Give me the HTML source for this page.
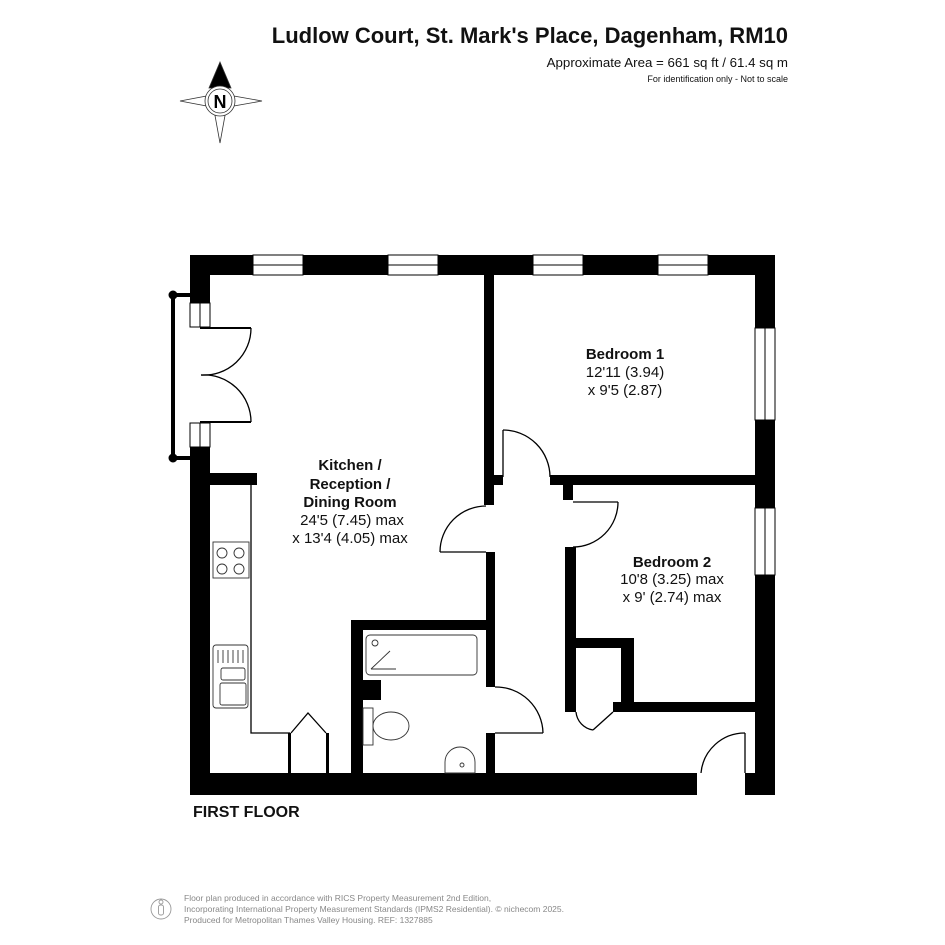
<!DOCTYPE html>
<html><head><meta charset="utf-8"><style>
html,body{margin:0;padding:0;background:#fff}
svg{display:block}
text{font-family:"Liberation Sans",Arial,sans-serif}
</style></head><body>
<svg width="945" height="945" viewBox="0 0 945 945" xmlns="http://www.w3.org/2000/svg">
<rect width="945" height="945" fill="#fff"/>
<text x="788" y="43" text-anchor="end" font-size="22" font-weight="bold" fill="#111">Ludlow Court, St. Mark's Place, Dagenham, RM10</text>
<text x="788" y="67" text-anchor="end" font-size="13.3" fill="#111">Approximate Area = 661 sq ft / 61.4 sq m</text>
<text x="788" y="82" text-anchor="end" font-size="9" fill="#111">For identification only - Not to scale</text>
<g stroke="#333" stroke-width="0.8" fill="#fff">
<polygon points="180,101 212,95 212,107"/>
<polygon points="262,101 228,95 228,107"/>
<polygon points="220,143 214,110 226,110"/>
<polygon points="220,62 209,88 231,88" fill="#000"/>
<circle cx="220" cy="101" r="15"/>
<circle cx="220" cy="101" r="12"/>
</g>
<text x="220" y="108" text-anchor="middle" font-size="18" font-weight="bold">N</text>

<g fill="#000">
<rect x="190" y="255" width="585" height="20"/>
<rect x="190" y="255" width="20" height="48"/>
<rect x="190" y="447" width="20" height="348"/>
<rect x="755" y="255" width="20" height="540"/>
<rect x="190" y="773" width="507" height="22"/>
<rect x="745" y="773" width="30" height="22"/>
<rect x="210" y="473" width="47" height="12"/>
<rect x="484" y="275" width="10" height="230"/>
<rect x="494" y="475" width="9" height="10"/>
<rect x="550" y="475" width="205" height="10"/>
<rect x="563" y="485" width="10" height="15"/>
<rect x="565" y="547" width="11" height="165"/>
<rect x="565" y="638" width="69" height="10"/>
<rect x="621" y="638" width="13" height="74"/>
<rect x="613" y="702" width="142" height="10"/>
<rect x="351" y="620" width="144" height="10"/>
<rect x="351" y="620" width="12" height="153"/>
<rect x="486" y="552" width="9" height="135"/>
<rect x="486" y="733" width="9" height="40"/>
<rect x="363" y="680" width="18" height="20"/>
<rect x="288" y="733" width="3" height="40"/>
<rect x="326" y="733" width="3" height="40"/>
</g>
<g fill="#fff" stroke="#000" stroke-width="1">
<rect x="253" y="255" width="50" height="20"/><line x1="253" y1="265" x2="303" y2="265"/>
<rect x="388" y="255" width="50" height="20"/><line x1="388" y1="265" x2="438" y2="265"/>
<rect x="533" y="255" width="50" height="20"/><line x1="533" y1="265" x2="583" y2="265"/>
<rect x="658" y="255" width="50" height="20"/><line x1="658" y1="265" x2="708" y2="265"/>
<rect x="755" y="328" width="20" height="92"/><line x1="765" y1="328" x2="765" y2="420"/>
<rect x="755" y="508" width="20" height="67"/><line x1="765" y1="508" x2="765" y2="575"/>
<rect x="190" y="303" width="20" height="24"/><line x1="200" y1="303" x2="200" y2="327"/>
<rect x="190" y="423" width="20" height="24"/><line x1="200" y1="423" x2="200" y2="447"/>
</g>
<g stroke="#000" fill="#000">
<line x1="173" y1="295" x2="173" y2="458" stroke-width="4"/>
<line x1="173" y1="295" x2="190" y2="295" stroke-width="4"/>
<line x1="173" y1="458" x2="190" y2="458" stroke-width="4"/>
<circle cx="173" cy="295" r="4"/><circle cx="173" cy="458" r="4"/>
</g>
<g stroke="#000" stroke-width="1.3" fill="none">
<line x1="200" y1="328" x2="251" y2="328" stroke-width="2"/>
<line x1="200" y1="422" x2="251" y2="422" stroke-width="2"/>
<path d="M251,328 A47,47 0 0 1 201,375"/>
<path d="M251,422 A47,47 0 0 0 201,375"/>
<polyline points="251,485 251,733 290,733"/>
<polyline points="291,733 308,713 326,733"/>
<line x1="440" y1="552" x2="486" y2="552"/>
<path d="M440,552 A46,46 0 0 1 486,506"/>
<line x1="503" y1="430" x2="503" y2="477"/>
<path d="M503,430 A47,47 0 0 1 550,477"/>
<line x1="573" y1="502" x2="618" y2="502"/>
<path d="M618,502 A45,45 0 0 1 573,547"/>
<line x1="495" y1="733" x2="543" y2="733"/>
<path d="M495,687 A47,47 0 0 1 543,733"/>
<line x1="745" y1="733" x2="745" y2="773"/>
<path d="M745,733 A44,44 0 0 0 701,773"/>
<line x1="613" y1="712" x2="593" y2="730"/>
<path d="M576,712 A20,20 0 0 0 593,730"/>
</g>
<g stroke="#333" stroke-width="0.9" fill="#fff">
<rect x="213" y="542" width="36" height="36"/>
<circle cx="222" cy="553" r="5"/><circle cx="239" cy="553" r="5"/>
<circle cx="222" cy="569" r="5"/><circle cx="239" cy="569" r="5"/>
<rect x="213" y="645" width="35" height="63" rx="3"/>
<rect x="220" y="683" width="26" height="22" rx="2"/>
<rect x="221" y="668" width="24" height="12" rx="2"/>
<line x1="218" y1="650" x2="218" y2="663"/><line x1="223" y1="650" x2="223" y2="663"/><line x1="228" y1="650" x2="228" y2="663"/><line x1="233" y1="650" x2="233" y2="663"/><line x1="238" y1="650" x2="238" y2="663"/><line x1="243" y1="650" x2="243" y2="663"/>
<rect x="366" y="635" width="111" height="40" rx="4"/>
<line x1="371" y1="669" x2="396" y2="669"/><line x1="371" y1="669" x2="390" y2="651"/>
<circle cx="375" cy="643" r="3"/>
<rect x="363" y="708" width="10" height="37"/>
<ellipse cx="391" cy="726" rx="18" ry="14"/>
<path d="M445,773 L445,762 A15,15 0 0 1 475,762 L475,773 Z"/>
<circle cx="462" cy="765" r="2"/>
</g>
<g text-anchor="middle" fill="#111" font-size="15">
<text x="350" y="470" font-weight="bold">Kitchen /</text>
<text x="350" y="489" font-weight="bold">Reception /</text>
<text x="350" y="507" font-weight="bold">Dining Room</text>
<text x="352" y="525">24'5 (7.45) max</text>
<text x="350" y="543">x 13'4 (4.05) max</text>
<text x="625" y="359" font-weight="bold">Bedroom 1</text>
<text x="625" y="377">12'11 (3.94)</text>
<text x="625" y="395">x 9'5 (2.87)</text>
<text x="672" y="567" font-weight="bold">Bedroom 2</text>
<text x="672" y="584">10'8 (3.25) max</text>
<text x="672" y="602">x 9' (2.74) max</text>
</g>
<text x="193" y="817" font-size="16" font-weight="bold" fill="#111">FIRST FLOOR</text>
<g stroke="#999" fill="none" stroke-width="0.9">
<circle cx="161" cy="909" r="10"/>
<circle cx="161" cy="902" r="2"/>
<rect x="158.5" y="905" width="5" height="10" rx="2"/>
</g>
<g font-size="8.5" fill="#888">
<text x="184" y="901">Floor plan produced in accordance with RICS Property Measurement 2nd Edition,</text>
<text x="184" y="912">Incorporating International Property Measurement Standards (IPMS2 Residential). © nichecom 2025.</text>
<text x="184" y="923">Produced for Metropolitan Thames Valley Housing.   REF:  1327885</text>
</g>
</svg>
</body></html>
